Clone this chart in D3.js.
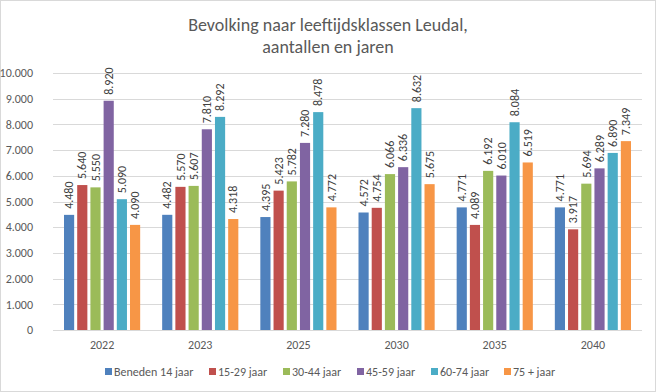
<!DOCTYPE html>
<html><head><meta charset="utf-8">
<script src="https://cdn.jsdelivr.net/npm/d3@7"></script>
<style>body{margin:0;background:#fff}svg{display:block}</style>
</head><body>
<svg id="c" width="656" height="392"></svg>
<script>
const years = ["2022","2023","2025","2030","2035","2040"];
const seriesNames = ["Beneden 14 jaar","15-29 jaar","30-44 jaar","45-59 jaar","60-74 jaar","75 + jaar"];
const colors = ["#4F81BD","#C0504D","#9BBB59","#8064A2","#4BACC6","#F79646"];
const s0 = [4480,4482,4395,4572,4771,4771];
const s1 = [5640,5570,5423,4754,4089,3917];
const s2 = [5550,5607,5782,6066,6192,5694];
const s3 = [8920,7810,7280,6336,6010,6289];
const s4 = [5090,8292,8478,8632,8084,6890];
const s5 = [4090,4318,4772,5675,6519,7349];
const yTicks = [0,1000,2000,3000,4000,5000,6000,7000,8000,9000,10000];
const series = [s0,s1,s2,s3,s4,s5];

const font = "Carlito, Calibri, 'Liberation Sans', sans-serif";
const svg = d3.select("#c");
svg.append("rect").attr("x",0.5).attr("y",0.5).attr("width",655).attr("height",391)
  .attr("fill","#fff").attr("stroke","#D9D9D9");

const L=53,R=642,T=73,B=330;
const x0 = d3.scaleBand().domain(years).range([L,R]).padding(0);
const x1 = d3.scaleBand().domain(d3.range(6)).range([11, x0.bandwidth()-11]).paddingInner(0.23);
const y = d3.scaleLinear().domain([0,10000]).range([B,T]);
const fmt = v => d3.format(",")(v).replace(/,/g,".");

// gridlines
svg.append("g").selectAll("line").data(yTicks.slice(1)).join("line")
  .attr("x1",L).attr("x2",R).attr("y1",d=>Math.round(y(d))+0.5).attr("y2",d=>Math.round(y(d))+0.5)
  .attr("stroke","#D9D9D9");
// y labels
svg.append("g").selectAll("text").data(yTicks).join("text")
  .attr("x",L-20).attr("y",d=>y(d)).attr("dy","0.35em").attr("text-anchor","end")
  .attr("font-family",font).attr("font-size",12).attr("fill","#595959").text(d=>fmt(d));

// bars
const g = svg.append("g");
years.forEach((yr,i)=>{
  series.forEach((s,k)=>{
    const bx = x0(yr)+x1(k);
    g.append("rect").attr("x",bx).attr("y",y(s[i])).attr("width",x1.bandwidth())
      .attr("height",B-y(s[i])).attr("fill",colors[k]);
    const cx = bx + x1.bandwidth()/2, ty = y(s[i]) - 6;
    g.append("text").attr("transform",`translate(${cx},${ty}) rotate(-90)`)
      .attr("dy","0.35em").attr("text-anchor","start")
      .attr("font-family",font).attr("font-size",12).attr("fill","#404040").text(fmt(s[i]));
  });
});
// axis line
svg.append("line").attr("x1",L).attr("x2",R).attr("y1",B+0.5).attr("y2",B+0.5).attr("stroke","#D9D9D9");
// x labels
svg.append("g").selectAll("text").data(years).join("text")
  .attr("x",d=>x0(d)+x0.bandwidth()/2).attr("y",345).attr("dy","0.35em").attr("text-anchor","middle")
  .attr("font-family",font).attr("font-size",12).attr("fill","#595959").text(d=>d);

// title
const title = ["Bevolking naar leeftijdsklassen Leudal,","aantallen en jaren"];
svg.append("g").selectAll("text").data(title).join("text")
  .attr("x",328).attr("y",(d,i)=>31+i*22).attr("text-anchor","middle")
  .attr("font-family",font).attr("font-size",18).attr("fill","#595959").text(d=>d);

// legend
const legX = [105,209,283,357,431,504];
const lg = svg.append("g");
seriesNames.forEach((n,k)=>{
  lg.append("rect").attr("x",legX[k]).attr("y",368).attr("width",7).attr("height",7).attr("fill",colors[k]);
  lg.append("text").attr("x",legX[k]+9).attr("y",371.5).attr("dy","0.35em")
    .attr("font-family",font).attr("font-size",12).attr("fill","#595959").text(n);
});
</script>
</body></html>
